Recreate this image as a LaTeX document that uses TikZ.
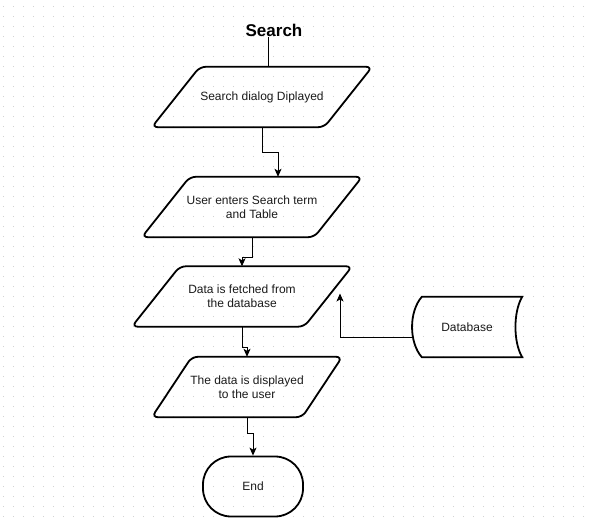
\documentclass[tikz,border=0pt]{standalone}
\usepackage{fontspec}
\setmainfont{Liberation Sans}
\usetikzlibrary{arrows.meta,calc}
\definecolor{griddot}{HTML}{D2D2D2}
\definecolor{txt}{HTML}{1A1A1A}
\tikzset{
	io/.style={rectangle, minimum height=60, inner sep=0pt, align=center,
		text=txt, font=\fontsize{12}{14}\selectfont},
	border/.style={line width=1.8pt, rounded corners=6pt},
	term/.style={rectangle, draw, line width=1.8pt, rounded corners=28pt,
		minimum width=100, minimum height=60, text=txt, font=\fontsize{12}{14}\selectfont},
	store/.style={rectangle, minimum width=110, minimum height=60, text=txt,
		font=\fontsize{12}{14}\selectfont},
	link/.style={line width=0.9pt},
	arr/.style={line width=0.9pt, -{Stealth[length=8pt,width=7pt,inset=2pt]}},
}
\begin{document}
\begin{tikzpicture}[x=1pt,y=-1pt]
	\useasboundingbox (0,0) rectangle (592,526);
	% dotted background
	\foreach \i in {0,...,58}{
		\foreach \j in {0,...,51}{
			\fill[griddot] ({3+10*\i},{6+10*\j}) rectangle ++(1.2,1.2);
		}
	}
	% Title
	\path (274,30) node[font=\bfseries\fontsize{17}{20}\selectfont, inner sep=1pt] (title) {Search};
	% Steps
	\path (262,97) node[io, minimum width=172] (dialog) {Search dialog Diplayed};
	\path (252,207) node[io, minimum width=172] (enter) {User enters Search term\\ and Table};
	\path (242,296.5) node[io, minimum width=172] (fetch) {Data is fetched from\\ the database};
	\path (247,387) node[io, minimum width=150] (show) {The data is displayed\\ to the user};
	\foreach \n/\s in {dialog/24, enter/24, fetch/24, show/20}{
		\draw[border] ($(\n.north west)+(\s,0)$) -- ($(\n.north east)+(\s,0)$)
			-- ($(\n.south east)+(-\s,0)$) -- ($(\n.south west)+(-\s,0)$) -- cycle;
	}
	\path (253,486.5) node[term] (end) {End};
	% Database store
	\path (467,327) node[store] (db) {Database};
	\draw[line width=1.8pt] ($(db.north west)+(10,0)$) -- (db.north east)
		.. controls +(-9,15) and +(-9,-15) .. (db.south east)
		-- ($(db.south west)+(10,0)$)
		.. controls +(-13,-15) and +(-13,15) .. ($(db.north west)+(10,0)$) -- cycle;
	% Connectors
	\coordinate (t0) at ($(title.south)+(-6,0)$);
	\draw[link] (t0) -- (t0 |- dialog.north);
	\draw[arr] (dialog.south) -- ++(0,25) -| ($(enter.north)+(26,0)$);
	\draw[arr] (enter.south) -- ++(0,20) -| (fetch.north);
	\draw[arr] (fetch.south) -- ++(0,21) -| (show.north);
	\draw[arr] (show.south) -- ++(0,16) -| (end.north);
	\coordinate (dbin) at ($(fetch.center)+(98,-3)$);
	\draw[arr] ($(db.west)+(1,10)$) -| (dbin);
\end{tikzpicture}
\end{document}
